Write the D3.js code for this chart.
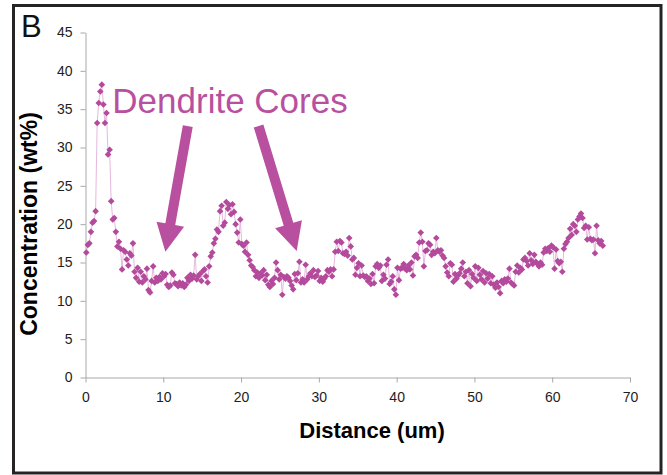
<!DOCTYPE html>
<html>
<head>
<meta charset="utf-8">
<script src="https://cdn.jsdelivr.net/npm/d3@7"></script>
<style>
  body { margin: 0; background: #fff; }
  svg { display: block; }
</style>
</head>
<body>
<svg id="chart" width="667" height="475"></svg>
<script>
// Panel texts
const panelLabel = "B";
const xTitle = "Distance (um)";
const yTitle = "Concentration (wt%)";
const annotationText = "Dendrite Cores";

// Axis ticks
const xTicks = [0, 10, 20, 30, 40, 50, 60, 70];
const yTicks = [0, 5, 10, 15, 20, 25, 30, 35, 40, 45];

// Line scan: first sample position and spacing (um)
const scanStart = 0.1;
const scanStep = 0.2;

// Measured concentration along the scan (wt%)
const concentration = [
  16.3, 17.3, 17.5, 19.0, 20.2, 20.4, 21.7, 33.2, 35.8, 37.3,
  38.2, 35.6, 33.2, 34.5, 29.1, 29.7, 23.0, 20.6, 20.8, 19.0,
  17.1, 17.7, 16.8, 14.1, 16.6, 16.4, 15.4, 14.6, 16.2, 15.9,
  17.5, 13.8, 13.0, 14.3, 12.5, 13.8, 12.4, 13.2, 12.8, 14.2,
  11.4, 11.1, 12.6, 14.5, 12.4, 13.0, 12.6, 13.1, 12.8, 13.6,
  13.2, 13.5, 12.1, 11.8, 12.0, 13.7, 13.4, 12.3, 12.2, 11.9,
  12.4, 12.0, 12.3, 11.8, 12.1, 13.0, 12.6, 13.4, 12.9, 13.3,
  16.0, 12.8, 13.2, 13.5, 12.6, 13.9, 14.1, 13.2, 12.4, 14.5,
  15.8, 16.3, 17.5, 18.1, 19.3, 19.0, 21.7, 22.4, 19.8, 20.2,
  22.9, 22.0, 22.5, 21.3, 22.6, 21.6, 20.0, 18.9, 17.6, 20.6,
  17.4, 17.2, 16.4, 17.6, 16.0, 15.3, 14.6, 14.4, 14.0, 13.2,
  13.7, 13.0, 13.6, 13.3, 14.0, 12.7, 13.4, 12.1, 11.8, 12.6,
  12.2, 13.0, 15.0, 14.0, 12.8, 13.4, 10.8, 13.1, 12.9, 13.2,
  13.0, 12.6, 12.0, 11.5, 13.5, 12.7, 13.6, 15.1, 12.4, 12.8,
  12.4, 14.7, 12.8, 13.2, 13.6, 13.2, 14.0, 13.1, 13.3, 13.9,
  12.6, 13.0, 12.5, 12.9, 13.2, 14.0, 13.8, 14.1, 13.2, 14.1,
  16.4, 17.7, 16.5, 17.8, 17.6, 16.2, 16.1, 16.4, 15.9, 18.2,
  17.1, 15.4, 15.6, 13.4, 14.3, 14.9, 13.2, 14.6, 13.3, 13.1,
  13.2, 12.6, 12.9, 12.2, 13.5, 12.3, 14.5, 14.8, 14.3, 14.6,
  12.6, 13.4, 12.9, 14.7, 15.4, 12.2, 12.5, 13.2, 11.5, 10.8,
  14.3, 12.7, 14.2, 14.3, 14.8, 14.2, 14.0, 14.6, 14.1, 15.0,
  13.3, 15.8, 16.0, 15.6, 17.6, 18.9, 17.7, 14.5, 16.5, 16.6,
  17.5, 17.3, 16.0, 16.4, 16.2, 18.2, 16.6, 16.4, 16.6, 15.9,
  15.6, 14.5, 13.7, 13.2, 14.9, 14.7, 12.5, 13.5, 12.9, 13.3,
  13.6, 14.2, 15.0, 13.2, 13.8, 12.3, 14.0, 11.9, 13.5, 13.0,
  14.5, 12.6, 14.3, 13.4, 12.8, 13.9, 12.4, 13.6, 12.9, 13.5,
  12.3, 13.2, 12.1, 11.7, 12.4, 11.8, 11.0, 12.6, 12.3, 12.8,
  12.5, 12.9, 14.2, 12.4, 12.2, 12.0, 13.8, 14.6, 13.7, 14.3,
  14.1, 15.4, 15.6, 15.2, 14.6, 16.2, 15.3, 14.8, 16.0, 15.1,
  14.8, 14.5, 15.0, 14.7, 16.3, 16.8, 16.5, 16.9, 16.4, 17.2,
  17.0, 14.2, 16.7, 15.2, 14.9, 15.1, 13.8, 16.8, 17.4, 17.7,
  18.2, 19.4, 18.6, 20.0, 19.8, 19.0, 20.6, 21.0, 21.4, 20.8,
  19.5, 19.8, 18.0, 19.6, 18.1, 17.9, 18.0, 16.2, 19.8, 17.9,
  17.5, 17.8, 17.2
];

// Annotation: label anchor and arrows, in data units (um, wt%)
const labelAnchor = [3.45, 34.5];
const arrowsData = [
  { from: [13.15, 32.8], to: [10.27, 16.4] },
  { from: [22.25, 32.8], to: [27.15, 16.5] }
];

const points = concentration.map((c, i) => ({
  d: +(scanStart + i * scanStep).toFixed(2),
  c: c
}));

const markColor = "#b44a9c";
const lineColor = "#e6b9dd";
const annoColor = "#b9509f";
const axisColor = "#a8a8a8";
const textColor = "#1e1e1e";

const svg = d3.select("#chart");

// outer frame
svg.append("rect")
  .attr("x", 13.5).attr("y", 5.5)
  .attr("width", 647.5).attr("height", 467.5)
  .attr("fill", "none")
  .attr("stroke", "#262324")
  .attr("stroke-width", 3);

const x = d3.scaleLinear().domain([0, 70]).range([85.5, 630]);
const y = d3.scaleLinear().domain([0, 45]).range([377.5, 32.5]);

// axes
const xAxis = svg.append("g")
  .attr("transform", `translate(0,${y(0)})`)
  .call(d3.axisBottom(x).tickValues(xTicks).tickSize(5).tickSizeOuter(0).tickPadding(10));
const yAxis = svg.append("g")
  .attr("transform", `translate(${x(0)},0)`)
  .call(d3.axisLeft(y).tickValues(yTicks).tickSize(5).tickSizeOuter(0).tickPadding(8));

[xAxis, yAxis].forEach(g => {
  g.select(".domain").attr("stroke", axisColor).attr("stroke-width", 1);
  g.selectAll(".tick line").attr("stroke", axisColor).attr("stroke-width", 1);
  g.selectAll(".tick text")
    .attr("fill", textColor)
    .style("font-family", "'Liberation Sans', Arial, sans-serif")
    .style("font-size", "14px");
});

// axis titles
svg.append("text")
  .attr("x", 372)
  .attr("y", 438)
  .attr("text-anchor", "middle")
  .attr("fill", "#000")
  .style("font-family", "'Liberation Sans', Arial, sans-serif")
  .style("font-weight", "bold")
  .style("font-size", "22px")
  .text(xTitle);

svg.append("text")
  .attr("transform", `translate(37,224) rotate(-90)`)
  .attr("text-anchor", "middle")
  .attr("fill", "#000")
  .style("font-family", "'Liberation Sans', Arial, sans-serif")
  .style("font-weight", "bold")
  .style("font-size", "23px")
  .text(yTitle);

// panel letter
svg.append("text")
  .attr("x", 21).attr("y", 37)
  .attr("fill", "#111")
  .style("font-family", "'Liberation Sans', Arial, sans-serif")
  .style("font-size", "31px")
  .text(panelLabel);

// connecting line
const line = d3.line().x(p => x(p.d)).y(p => y(p.c));
svg.append("path")
  .datum(points)
  .attr("d", line)
  .attr("fill", "none")
  .attr("stroke", lineColor)
  .attr("stroke-width", 1);

// diamond markers
const r = 3.3;
svg.append("g").selectAll("path")
  .data(points)
  .join("path")
  .attr("transform", p => `translate(${x(p.d)},${y(p.c)})`)
  .attr("d", `M0,${-r}L${r},0L0,${r}L${-r},0Z`)
  .attr("fill", markColor);

// annotation text
svg.append("text")
  .attr("x", x(labelAnchor[0]))
  .attr("y", y(labelAnchor[1]))
  .attr("fill", annoColor)
  .style("font-family", "'Liberation Sans', Arial, sans-serif")
  .style("font-size", "35px")
  .text(annotationText);

// block arrows
function arrowPath(a) {
  const x0 = x(a.from[0]), y0 = y(a.from[1]);
  const x1 = x(a.to[0]), y1 = y(a.to[1]);
  const len = Math.hypot(x1 - x0, y1 - y0);
  const ux = (x1 - x0) / len, uy = (y1 - y0) / len;
  const px = -uy, py = ux;
  const sw = 5, hw = 14, hl = 28;
  const bx = x1 - ux * hl, by = y1 - uy * hl;
  const pts = [
    [x0 + px * sw, y0 + py * sw],
    [bx + px * sw, by + py * sw],
    [bx + px * hw, by + py * hw],
    [x1, y1],
    [bx - px * hw, by - py * hw],
    [bx - px * sw, by - py * sw],
    [x0 - px * sw, y0 - py * sw]
  ];
  return "M" + pts.map(p => p.join(",")).join("L") + "Z";
}
svg.append("g").selectAll("path")
  .data(arrowsData)
  .join("path")
  .attr("d", arrowPath)
  .attr("fill", annoColor);
</script>
</body>
</html>
